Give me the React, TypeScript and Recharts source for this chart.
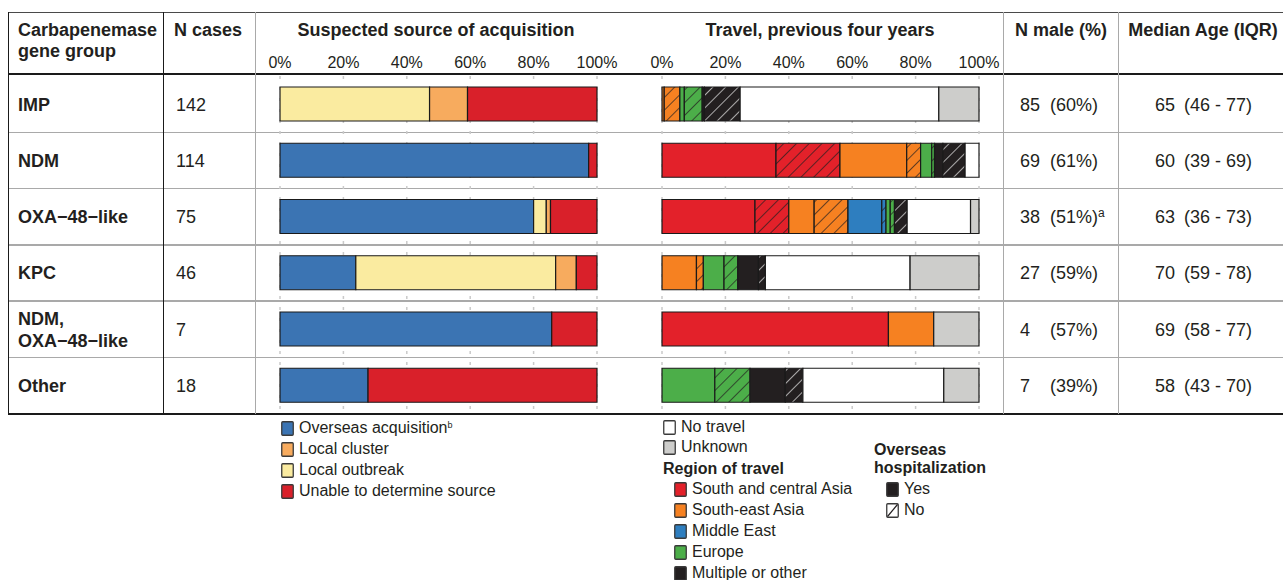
import React from "react";
import { BarChart, Bar, XAxis, YAxis, CartesianGrid } from "recharts";

// carbapenemase groups and table columns
const groups = ["IMP", "NDM", "OXA−48−like", "KPC", "NDM, OXA−48−like", "Other"];
const groupLines = [["IMP"], ["NDM"], ["OXA−48−like"], ["KPC"], ["NDM,", "OXA−48−like"], ["Other"]];
const nCases = [142, 114, 75, 46, 7, 18];
const nMale = [85, 69, 38, 27, 4, 7];
const pctMale = ["(60%)", "(61%)", "(51%)", "(59%)", "(57%)", "(39%)"];
const maleNote = ["", "", "a", "", "", ""];
const medianAge = [65, 60, 63, 70, 69, 58];
const ageIqr = ["(46 - 77)", "(39 - 69)", "(36 - 73)", "(59 - 78)", "(58 - 77)", "(43 - 70)"];

// suspected source of acquisition, cases per group
const overseas = [0, 111, 60, 11, 6, 5];
const outbreak = [67, 0, 3, 29, 0, 0];
const cluster = [17, 0, 1, 3, 0, 0];
const unable = [58, 3, 11, 3, 1, 13];

// travel in previous four years, cases per group (yes / no = overseas hospitalization)
const scaYes = [0, 41, 22, 0, 5, 0];
const scaNo = [0, 23, 8, 0, 0, 0];
const seaYes = [1, 24, 6, 5, 1, 0];
const seaNo = [7, 5, 8, 1, 0, 0];
const meYes = [0, 0, 8, 0, 0, 0];
const meNo = [0, 0, 1, 0, 0, 0];
const euYes = [2, 4, 1, 3, 0, 3];
const euNo = [8, 1, 1, 2, 0, 2];
const moYes = [1, 3, 0, 3, 0, 2];
const moNo = [16, 8, 3, 1, 0, 1];
const noTravel = [89, 5, 15, 21, 0, 8];
const unknown = [18, 0, 2, 10, 1, 2];

const pctTicks = [0, 20, 40, 60, 80, 100];

const C = {
  overseas: "#3b74b3",
  cluster: "#f7ab5e",
  outbreak: "#faeba0",
  unable: "#d9202a",
  sca: "#e3212a",
  sea: "#f68121",
  me: "#2e7ebf",
  eu: "#4cae49",
  mo: "#231f20",
  none: "#ffffff",
  unk: "#cdcdcb",
};

const FONT = '"Liberation Sans", Arial, Helvetica, sans-serif';
const INK = "#231f20";

const toPct = (arr: number[], i: number) => (arr[i] / nCases[i]) * 100;

const sourceData = groups.map((g, i) => ({
  group: g,
  overseas: toPct(overseas, i),
  outbreak: toPct(outbreak, i),
  cluster: toPct(cluster, i),
  unable: toPct(unable, i),
}));

const travelData = groups.map((g, i) => ({
  group: g,
  scaYes: toPct(scaYes, i),
  scaNo: toPct(scaNo, i),
  seaYes: toPct(seaYes, i),
  seaNo: toPct(seaNo, i),
  meYes: toPct(meYes, i),
  meNo: toPct(meNo, i),
  euYes: toPct(euYes, i),
  euNo: toPct(euNo, i),
  moYes: toPct(moYes, i),
  moNo: toPct(moNo, i),
  none: toPct(noTravel, i),
  unknown: toPct(unknown, i),
}));

const sourceBars = [
  { key: "overseas", fill: C.overseas },
  { key: "outbreak", fill: C.outbreak },
  { key: "cluster", fill: C.cluster },
  { key: "unable", fill: C.unable },
];

const travelBars = [
  { key: "scaYes", fill: C.sca },
  { key: "scaNo", fill: "url(#hatch-sca)" },
  { key: "seaYes", fill: C.sea },
  { key: "seaNo", fill: "url(#hatch-sea)" },
  { key: "meYes", fill: C.me },
  { key: "meNo", fill: "url(#hatch-me)" },
  { key: "euYes", fill: C.eu },
  { key: "euNo", fill: "url(#hatch-eu)" },
  { key: "moYes", fill: C.mo },
  { key: "moNo", fill: "url(#hatch-mo)" },
  { key: "none", fill: C.none },
  { key: "unknown", fill: C.unk },
];

const hatches = [
  { id: "hatch-sca", bg: C.sca, line: "#231f20" },
  { id: "hatch-sea", bg: C.sea, line: "#231f20" },
  { id: "hatch-me", bg: C.me, line: "#231f20" },
  { id: "hatch-eu", bg: C.eu, line: "#231f20" },
  { id: "hatch-mo", bg: C.mo, line: "#e8e8e8" },
];

// layout
const PLOT_TOP = 76;
const BAND = 56.25;
const rowY = (i: number) => PLOT_TOP + BAND * (i + 0.5);

function Panel({ left, data, bars }: { left: number; data: any[]; bars: { key: string; fill: string }[] }) {
  return (
    <div style={{ position: "absolute", left, top: 40 }}>
      <BarChart
        width={370}
        height={380}
        data={data}
        layout="vertical"
        margin={{ top: 12, right: 23, left: 30, bottom: 6.5 }}
        barSize={34}
      >
        <defs>
          {hatches.map((h) => (
            <pattern
              key={h.id}
              id={h.id}
              patternUnits="userSpaceOnUse"
              width={9}
              height={9}
              patternTransform="rotate(45)"
            >
              <rect width={9} height={9} fill={h.bg} />
              <line x1={0} y1={0} x2={0} y2={9} stroke={h.line} strokeWidth={1.4} />
            </pattern>
          ))}
        </defs>
        <CartesianGrid horizontal={false} stroke="#cacaca" strokeWidth={1.5} strokeDasharray="3 8" />
        <XAxis
          type="number"
          orientation="top"
          domain={[0, 100]}
          ticks={pctTicks}
          interval={0}
          tickFormatter={(v) => `${v}%`}
          axisLine={false}
          tickLine={false}
          height={24}
          tick={{ fontSize: 16, fill: INK, fontFamily: FONT }}
        />
        <YAxis type="category" dataKey="group" hide />
        {bars.map((b) => (
          <Bar
            key={b.key}
            dataKey={b.key}
            stackId="s"
            fill={b.fill}
            stroke="#1a1a1a"
            strokeWidth={1.2}
            isAnimationActive={false}
          />
        ))}
      </BarChart>
    </div>
  );
}

const HLine = ({ y, x1, x2, color, w }: any) => (
  <div style={{ position: "absolute", left: x1, top: y - w / 2, width: x2 - x1, height: w, background: color }} />
);
const VLine = ({ x, y1, y2, color, w }: any) => (
  <div style={{ position: "absolute", left: x - w / 2, top: y1, width: w, height: y2 - y1, background: color }} />
);

const Txt = ({ x, y, size = 18, bold = false, center = false, children }: any) => (
  <div
    style={{
      position: "absolute",
      left: x,
      top: y - 12,
      height: 24,
      lineHeight: "24px",
      fontSize: size,
      fontWeight: bold ? 700 : 400,
      whiteSpace: "nowrap",
      transform: center ? "translateX(-50%)" : undefined,
      color: INK,
    }}
  >
    {children}
  </div>
);

const Sup = ({ size, rise, children }: any) => (
  <span style={{ fontSize: size, position: "relative", top: -rise, lineHeight: 0 }}>{children}</span>
);

const Swatch = ({ x, y, fill, hatch = false }: any) => (
  <svg style={{ position: "absolute", left: x, top: y - 7 }} width={13} height={15}>
    <rect x={0.75} y={0.75} width={11.5} height={13.5} rx={1} fill={fill} stroke="#3a3a3a" strokeWidth={1.3} />
    {hatch && <line x1={1.5} y1={13.5} x2={11.5} y2={1.5} stroke="#231f20" strokeWidth={1.2} />}
  </svg>
);

const sourceLegend = [
  { label: "Overseas acquisition", sup: "b", fill: C.overseas },
  { label: "Local cluster", sup: "", fill: C.cluster },
  { label: "Local outbreak", sup: "", fill: C.outbreak },
  { label: "Unable to determine source", sup: "", fill: C.unable },
];
const regionLegend = [
  { label: "South and central Asia", fill: C.sca },
  { label: "South-east Asia", fill: C.sea },
  { label: "Middle East", fill: C.me },
  { label: "Europe", fill: C.eu },
  { label: "Multiple or other", fill: C.mo },
];

export default function App() {
  const sepColor = "#a9a9a9";
  return (
    <div
      style={{
        position: "absolute",
        left: 0,
        top: 0,
        width: 1283,
        height: 580,
        background: "#fff",
        fontFamily: FONT,
        color: INK,
        overflow: "hidden",
      }}
    >
      {/* grid lines of the table */}
      {[0, 1, 2, 3, 4].map((i) => (
        <HLine key={i} y={PLOT_TOP + BAND * (i + 1)} x1={8} x2={1283} color={sepColor} w={1.5} />
      ))}

      <Panel left={250} data={sourceData} bars={sourceBars} />
      <Panel left={632} data={travelData} bars={travelBars} />

      <HLine y={12.5} x1={8} x2={1283} color="#4a4a4a" w={1.5} />
      <HLine y={74} x1={8} x2={1283} color="#1a1a1a" w={2} />
      <HLine y={413.5} x1={8} x2={1283} color="#1a1a1a" w={2} />
      <VLine x={8.5} y1={12} y2={414} color="#1a1a1a" w={1.5} />
      <VLine x={163.5} y1={12} y2={414} color="#1a1a1a" w={1.5} />
      <VLine x={255.5} y1={12} y2={414} color={sepColor} w={1.5} />
      <VLine x={1003.5} y1={12} y2={414} color={sepColor} w={1.5} />
      <VLine x={1118.5} y1={12} y2={414} color={sepColor} w={1.5} />

      {/* header */}
      <Txt x={18} y={30} bold>Carbapenemase</Txt>
      <Txt x={18} y={51} bold>gene group</Txt>
      <Txt x={174} y={30} bold>N cases</Txt>
      <Txt x={436} y={30} bold center>Suspected source of acquisition</Txt>
      <Txt x={820} y={30} bold center>Travel, previous four years</Txt>
      <Txt x={1061} y={30} bold center>N male (%)</Txt>
      <Txt x={1203} y={30} bold center>Median Age (IQR)</Txt>

      {/* rows */}
      {groups.map((g, i) => {
        const y = rowY(i) + 0.5;
        const lines = groupLines[i];
        return (
          <React.Fragment key={g}>
            {lines.map((l, k) => (
              <Txt key={k} x={18} y={y + (k - (lines.length - 1) / 2) * 22} bold>
                {l}
              </Txt>
            ))}
            <Txt x={176} y={y}>{nCases[i]}</Txt>
            <Txt x={1020} y={y}>{nMale[i]}</Txt>
            <Txt x={1050} y={y}>
              {pctMale[i]}
              {maleNote[i] && <Sup size={12} rise={6}>{maleNote[i]}</Sup>}
            </Txt>
            <Txt x={1155} y={y}>{medianAge[i]}</Txt>
            <Txt x={1184} y={y}>{ageIqr[i]}</Txt>
          </React.Fragment>
        );
      })}

      {/* source legend */}
      {sourceLegend.map((s, i) => {
        const y = 428 + i * 21;
        return (
          <React.Fragment key={s.label}>
            <Swatch x={281} y={y} fill={s.fill} />
            <Txt x={299} y={y} size={16}>
              {s.label}
              {s.sup && <Sup size={9} rise={5}>{s.sup}</Sup>}
            </Txt>
          </React.Fragment>
        );
      })}

      {/* travel legend */}
      <Swatch x={663} y={427} fill={C.none} />
      <Txt x={681} y={427} size={16}>No travel</Txt>
      <Swatch x={663} y={447} fill={C.unk} />
      <Txt x={681} y={447} size={16}>Unknown</Txt>
      <Txt x={663} y={469} size={16} bold>Region of travel</Txt>
      {regionLegend.map((r, i) => {
        const y = 489 + i * 21;
        return (
          <React.Fragment key={r.label}>
            <Swatch x={674} y={y} fill={r.fill} />
            <Txt x={692} y={y} size={16}>{r.label}</Txt>
          </React.Fragment>
        );
      })}
      <Txt x={874} y={450} size={16} bold>Overseas</Txt>
      <Txt x={874} y={468} size={16} bold>hospitalization</Txt>
      <Swatch x={886} y={489} fill={C.mo} />
      <Txt x={904} y={489} size={16}>Yes</Txt>
      <Swatch x={886} y={510} fill="#fff" hatch />
      <Txt x={904} y={510} size={16}>No</Txt>
    </div>
  );
}
